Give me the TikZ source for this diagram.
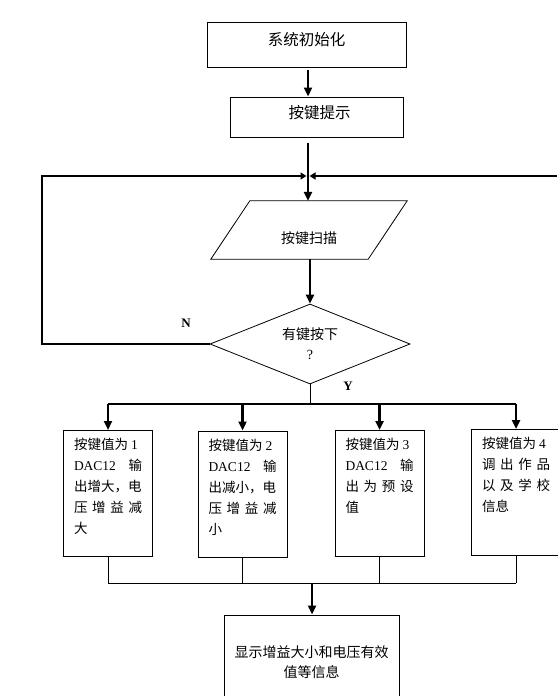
\documentclass[tikz,border=0pt]{standalone}
\usepackage{fontspec}
\setmainfont{Noto Sans CJK SC}
\newfontfamily\latin{Liberation Serif}
\usetikzlibrary{arrows.meta, shapes.geometric}

\newcommand{\spread}[1]{\makebox[68pt][s]{#1}}
\newcommand{\keytext}[1]{\parbox[c][110pt][t]{68pt}{#1}}
\newcommand{\lift}[2]{\raisebox{#1}[0pt][0pt]{#2}}

\begin{document}
\begin{tikzpicture}[
    x=1pt, y=-1pt,
    box/.style={draw, rectangle, line width=1pt, inner sep=0pt, font=\fontsize{15.5}{18}\selectfont},
    keybox/.style={draw, rectangle, line width=1pt, inner xsep=10.5pt, inner ysep=8pt, font=\fontsize{13.5}{21}\selectfont},
    io/.style={rectangle, minimum width=157pt, minimum height=58pt, inner sep=0pt, font=\fontsize{14}{18}\selectfont},
    decision/.style={draw, diamond, shape aspect=2.5, line width=0.8pt, minimum width=200pt, minimum height=80pt, inner sep=0pt, align=center, font=\fontsize{14}{20}\selectfont},
    arrow/.style={-{Triangle[width=8pt,length=9pt]}, line width=2.5pt},
    loopline/.style={-{Triangle[width=7pt,length=6pt]}, line width=2.5pt},
    thin/.style={line width=1pt},
    bus/.style={line width=2.5pt},
    yn/.style={font=\fontsize{13}{13}\latin\bfseries}
]
\useasboundingbox (0,0) rectangle (557,696);

% main column
\node[box, minimum width=199pt, minimum height=45pt] (init) at (306.5,44.5) {\lift{-1pt}{系统初始化}};
\node[box, minimum width=173pt, minimum height=40pt] (hint) at (316.5,117) {\lift{-1pt}{\hspace{6pt}按键提示}};
\node[io] (scan) at (309,230) {\lift{-13pt}{按键扫描}};
\draw[line width=0.8pt] ([xshift=-19.5pt]scan.south west) -- ([xshift=-19.5pt]scan.south east)
  -- ([xshift=19.5pt]scan.north east) -- ([xshift=19.5pt]scan.north west) -- cycle;
\node[decision] (press) at (310,344) {有键按下\\{\latin ?}};

\coordinate (merge) at (308,176);
\coordinate (loopw) at (42,176);
\coordinate (loope) at (557,176);

\draw[arrow, shorten <=2pt] (merge |- init.south) -- (merge |- hint.north);
\draw[arrow, shorten <=5pt] (merge |- hint.south) -- (merge |- scan.north);
\draw[loopline] (press.west) -- (press.west -| loopw) -- (loopw) -- ([xshift=-1.5pt]merge);
\draw[loopline] (loope) -- ([xshift=1.5pt]merge);
\draw[arrow] (press.north |- scan.south) -- (press.north);

\node[yn] (nlab) at (186,323) {N};
\node[yn] (ylab) at (348,386) {Y};

% key branches
\node[keybox] (k1) at (108,493.5) {\keytext{%
按键值为 {\latin 1}\\
\spread{{\latin DAC12} 输}\\
出增大，电\\
\spread{压 增 益 减}\\
大}};
\node[keybox] (k2) at (242.5,494) {\keytext{%
按键值为 {\latin 2}\\
\spread{{\latin DAC12} 输}\\
出减小，电\\
\spread{压 增 益 减}\\
小}};
\node[keybox] (k3) at (379.5,493.5) {\keytext{%
按键值为 {\latin 3}\\
\spread{{\latin DAC12} 输}\\
\spread{出 为 预 设}\\
值}};
\node[keybox] (k4) at (516,492.5) {\keytext{%
按键值为 {\latin 4}\\
\spread{调 出 作 品}\\
\spread{以 及 学 校}\\
信息}};

\coordinate (split) at (310,404);
\draw[thin] (press.south) -- (split);
\draw[bus] (k1.north |- split) -- (k4.north |- split);
\foreach \k in {k1,k2,k3,k4}
  \draw[arrow] (\k.north |- split) -- (\k.north);

% result
\node[box, minimum width=175pt, minimum height=94pt, align=center, font=\fontsize{14}{20}\selectfont] (show) at (311.5,662) {显示增益大小和电压有效\\值等信息};

\coordinate (join) at (312,583);
\foreach \k in {k1,k2,k3,k4}
  \draw[thin] (\k.south) -- (\k.south |- join);
\draw[thin] (k1.south |- join) -- (k4.south |- join);
\draw[arrow] (join) -- (join |- show.north);
\end{tikzpicture}
\end{document}
